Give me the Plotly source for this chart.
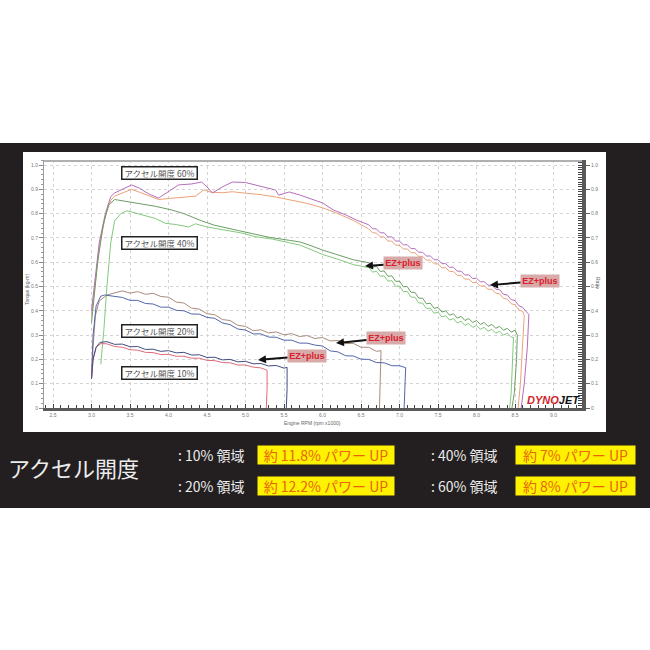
import plotly.graph_objects as go

# ---------------- data ----------------
x_tick_vals = [2.5, 3.0, 3.5, 4.0, 4.5, 5.0, 5.5, 6.0, 6.5, 7.0, 7.5, 8.0, 8.5, 9.0]
x_tick_text = ["2.5", "3.0", "3.5", "4.0", "4.5", "5.0", "5.5", "6.0", "6.5", "7.0", "7.5", "8.0", "8.5", "9.0"]
y_tick_vals = [0, 0.1, 0.2, 0.3, 0.4, 0.5, 0.6, 0.7, 0.8, 0.9, 1.0]
y_tick_text = ["0", "0.1", "0.2", "0.3", "0.4", "0.5", "0.6", "0.7", "0.8", "0.9", "1.0"]

# 60% throttle - EZ+plus (purple)
rpm_60_ez = [3.00, 3.05, 3.10, 3.18, 3.25, 3.30, 3.40, 3.52, 3.62, 3.75, 3.87, 4.00, 4.13, 4.30, 4.43, 4.50,
             4.57, 4.70, 4.83, 5.00, 5.13, 5.25, 5.39, 5.43, 5.57, 5.71, 5.85, 6.00, 6.14, 6.30, 6.45,
             6.60, 6.65, 6.70, 6.75, 6.80, 6.85, 6.90, 6.95, 7.00, 7.05, 7.10, 7.15, 7.20, 7.25, 7.30, 7.35,
             7.40, 7.45, 7.50, 7.55, 7.60, 7.65, 7.70, 7.75, 7.80, 7.85, 7.90, 7.95, 8.00, 8.05, 8.10, 8.15,
             8.20, 8.25, 8.30, 8.35, 8.40, 8.45, 8.50, 8.55, 8.60, 8.65, 8.68, 8.66, 8.62, 8.58]
tq_60_ez = [0.40, 0.55, 0.68, 0.80, 0.87, 0.885, 0.90, 0.918, 0.905, 0.88, 0.864, 0.89, 0.918, 0.922, 0.93, 0.91,
            0.885, 0.91, 0.93, 0.928, 0.918, 0.908, 0.897, 0.876, 0.889, 0.876, 0.862, 0.844, 0.815, 0.795, 0.772,
            0.754, 0.738, 0.737, 0.721, 0.721, 0.704, 0.704, 0.687, 0.687, 0.671, 0.672, 0.656, 0.656, 0.641, 0.641, 0.625,
            0.626, 0.610, 0.610, 0.594, 0.594, 0.579, 0.579, 0.563, 0.563, 0.547, 0.548, 0.533, 0.534, 0.519, 0.520, 0.505,
            0.506, 0.489, 0.487, 0.468, 0.465, 0.446, 0.442, 0.421, 0.414, 0.395, 0.385, 0.25, 0.10, 0.0]

# 60% throttle - stock (orange)
rpm_60_st = [3.00, 3.05, 3.10, 3.18, 3.25, 3.30, 3.40, 3.52, 3.65, 3.80, 3.87, 4.00, 4.20, 4.35, 4.46, 4.55,
             4.70, 4.83, 5.00, 5.20, 5.40, 5.60, 5.80, 6.00, 6.20, 6.40,
             6.60, 6.65, 6.70, 6.75, 6.80, 6.85, 6.90, 6.95, 7.00, 7.05, 7.10, 7.15, 7.20, 7.25, 7.30, 7.35,
             7.40, 7.45, 7.50, 7.55, 7.60, 7.65, 7.70, 7.75, 7.80, 7.85, 7.90, 7.95, 8.00, 8.05, 8.10, 8.15,
             8.20, 8.25, 8.30, 8.35, 8.40, 8.45, 8.50, 8.55, 8.60, 8.62, 8.60, 8.57, 8.54]
tq_60_st = [0.38, 0.52, 0.66, 0.79, 0.855, 0.872, 0.885, 0.90, 0.885, 0.865, 0.858, 0.862, 0.866, 0.872, 0.898, 0.888,
            0.886, 0.89, 0.884, 0.878, 0.868, 0.856, 0.842, 0.824, 0.800, 0.772,
            0.737, 0.721, 0.720, 0.704, 0.704, 0.687, 0.687, 0.670, 0.670, 0.654, 0.655, 0.639, 0.639, 0.624, 0.624, 0.608,
            0.609, 0.593, 0.593, 0.577, 0.577, 0.562, 0.562, 0.546, 0.546, 0.530, 0.531, 0.516, 0.517, 0.502, 0.503, 0.488,
            0.489, 0.472, 0.470, 0.451, 0.448, 0.429, 0.425, 0.404, 0.397, 0.38, 0.25, 0.10, 0.0]

# 40% throttle - EZ+plus (darker green)
rpm_40_ez = [3.00, 3.08, 3.15, 3.22, 3.30, 3.45, 3.60, 3.83, 4.04, 4.20, 4.43, 4.60, 4.91, 5.10, 5.30, 5.57,
             5.71, 5.85, 6.00, 6.20, 6.40,
             6.60, 6.65, 6.70, 6.75, 6.80, 6.85, 6.90, 6.95, 7.00, 7.05, 7.10, 7.15, 7.20, 7.25, 7.30, 7.35,
             7.40, 7.45, 7.50, 7.55, 7.60, 7.65, 7.70, 7.75, 7.80, 7.85, 7.90, 7.95, 8.00, 8.05, 8.10, 8.15,
             8.20, 8.25, 8.30, 8.35, 8.40, 8.45, 8.50, 8.53, 8.52, 8.49, 8.46]
tq_40_ez = [0.35, 0.60, 0.75, 0.835, 0.858, 0.85, 0.84, 0.83, 0.815, 0.80, 0.77, 0.752, 0.73, 0.716, 0.703, 0.69,
            0.683, 0.668, 0.65, 0.63, 0.61,
            0.598, 0.579, 0.583, 0.562, 0.564, 0.542, 0.544, 0.521, 0.522, 0.499, 0.500, 0.476, 0.476, 0.452, 0.452, 0.429,
            0.431, 0.410, 0.414, 0.395, 0.400, 0.382, 0.388, 0.370, 0.377, 0.360, 0.368, 0.352, 0.360, 0.344, 0.352, 0.336,
            0.344, 0.328, 0.336, 0.320, 0.328, 0.312, 0.320, 0.30, 0.20, 0.06, 0.0]

# 40% throttle - stock (light green)
rpm_40_st = [3.12, 3.16, 3.20, 3.25, 3.30, 3.38, 3.46, 3.60, 3.83, 3.96, 4.10, 4.26, 4.35, 4.50, 4.78, 4.95,
             5.13, 5.35, 5.57, 5.71, 5.85, 6.00, 6.20, 6.40,
             6.60, 6.65, 6.70, 6.75, 6.80, 6.85, 6.90, 6.95, 7.00, 7.05, 7.10, 7.15, 7.20, 7.25, 7.30, 7.35,
             7.40, 7.45, 7.50, 7.55, 7.60, 7.65, 7.70, 7.75, 7.80, 7.85, 7.90, 7.95, 8.00, 8.05, 8.10, 8.15,
             8.20, 8.25, 8.30, 8.35, 8.40, 8.45, 8.48, 8.47, 8.45, 8.43]
tq_40_st = [0.18, 0.32, 0.50, 0.68, 0.77, 0.80, 0.812, 0.80, 0.78, 0.76, 0.755, 0.745, 0.758, 0.745, 0.73, 0.72,
            0.705, 0.695, 0.68, 0.67, 0.652, 0.632, 0.612, 0.59,
            0.578, 0.559, 0.563, 0.542, 0.544, 0.522, 0.524, 0.501, 0.502, 0.479, 0.480, 0.456, 0.456, 0.432, 0.432, 0.409,
            0.411, 0.390, 0.394, 0.375, 0.380, 0.362, 0.368, 0.350, 0.357, 0.340, 0.348, 0.332, 0.340, 0.324, 0.332, 0.316,
            0.324, 0.308, 0.316, 0.300, 0.308, 0.292, 0.29, 0.18, 0.06, 0.0]

# 20% throttle - EZ+plus (brown)
rpm_20_ez = [3.00, 3.02, 3.05, 3.10, 3.20, 3.30,
             3.4, 3.5, 3.6, 3.7, 3.8, 3.9, 4.0, 4.1, 4.2, 4.3, 4.4, 4.5, 4.6, 4.7, 4.8, 4.9, 5.0, 5.1, 5.2, 5.3,
             5.4, 5.5, 5.6, 5.7, 5.8, 5.9, 6.0, 6.1, 6.2, 6.3, 6.4, 6.5, 6.6, 6.7, 6.76, 6.75, 6.74]
tq_20_ez = [0.12, 0.25, 0.38, 0.44, 0.465, 0.475,
            0.482, 0.473, 0.479, 0.468, 0.472, 0.459, 0.456, 0.436, 0.432, 0.411, 0.407, 0.388, 0.384, 0.364, 0.360,
            0.340, 0.336, 0.318, 0.322, 0.309, 0.313, 0.301, 0.306, 0.294, 0.298, 0.286, 0.290, 0.276, 0.278, 0.265,
            0.266, 0.250, 0.250, 0.233, 0.236, 0.12, 0.0]

# 20% throttle - stock (blue)
rpm_20_st = [3.00, 3.02, 3.06, 3.12, 3.17, 3.30,
             3.4, 3.5, 3.6, 3.7, 3.8, 3.9, 4.0, 4.1, 4.2, 4.3, 4.4, 4.5, 4.6, 4.7, 4.8, 4.9, 5.0, 5.1, 5.2, 5.3,
             5.4, 5.5, 5.6, 5.7, 5.8, 5.9, 6.0, 6.1, 6.2, 6.3, 6.4, 6.5, 6.6, 6.7, 6.8, 6.9, 7.0, 7.08, 7.07, 7.06]
tq_20_st = [0.12, 0.30, 0.42, 0.46, 0.465, 0.458,
            0.455, 0.443, 0.443, 0.430, 0.428, 0.415, 0.415, 0.402, 0.400, 0.387, 0.386, 0.373, 0.369, 0.350, 0.343,
            0.325, 0.321, 0.305, 0.305, 0.292, 0.291, 0.279, 0.279, 0.267, 0.267, 0.259, 0.255, 0.235, 0.231, 0.215,
            0.214, 0.201, 0.200, 0.187, 0.186, 0.174, 0.174, 0.166, 0.08, 0.0]

# 10% throttle - EZ+plus (navy)
rpm_10_ez = [3.00, 3.02, 3.06, 3.11,
             3.2, 3.3, 3.4, 3.5, 3.6, 3.7, 3.8, 3.9, 4.0, 4.1, 4.2, 4.3, 4.4, 4.5, 4.6, 4.7, 4.8, 4.9, 5.0, 5.1,
             5.2, 5.3, 5.4, 5.5, 5.54, 5.54, 5.53]
tq_10_ez = [0.12, 0.20, 0.25, 0.27,
            0.273, 0.262, 0.263, 0.252, 0.253, 0.241, 0.242, 0.233, 0.236, 0.227, 0.229, 0.218, 0.219, 0.208, 0.209,
            0.198, 0.200, 0.190, 0.192, 0.182, 0.183, 0.173, 0.175, 0.164, 0.167, 0.08, 0.0]

# 10% throttle - stock (pink)
rpm_10_st = [3.00, 3.02, 3.06, 3.12,
             3.2, 3.3, 3.4, 3.5, 3.6, 3.7, 3.8, 3.9, 4.0, 4.1, 4.2, 4.3, 4.4, 4.5, 4.6, 4.7, 4.8, 4.9, 5.0, 5.1,
             5.2, 5.28, 5.28, 5.27]
tq_10_st = [0.12, 0.20, 0.25, 0.265,
            0.264, 0.253, 0.250, 0.240, 0.238, 0.229, 0.228, 0.220, 0.221, 0.213, 0.213, 0.205, 0.205, 0.196, 0.195,
            0.187, 0.186, 0.177, 0.177, 0.168, 0.165, 0.155, 0.08, 0.0]

throttle_labels = ["アクセル開度 60%", "アクセル開度 40%", "アクセル開度 20%", "アクセル開度 10%"]
summary_title = "アクセル開度"
summary_rows = [": 10% 領域", ": 20% 領域", ": 40% 領域", ": 60% 領域"]
summary_gain = ["約 11.8% パワー UP", "約 12.2% パワー UP", "約 7% パワー UP", "約 8% パワー UP"]

# ---------------- layout geometry (pixels) ----------------
W, H = 650, 650
L, R, T, B = 44, 582, 160, 408
X_RANGE = [2.383, 9.370]
Y_RANGE = [0, 1.0206]


def pxx(px):
    return (px - L) / (R - L)


def pxy(py):
    return (B - py) / (B - T)


fig = go.Figure()


def add(x, y, color, width=1.0):
    fig.add_trace(go.Scatter(x=x, y=y, mode="lines", line=dict(color=color, width=width),
                             showlegend=False, hoverinfo="skip"))


add(rpm_60_st, tq_60_st, "#eba277")
add(rpm_60_ez, tq_60_ez, "#b66dbd")
add(rpm_40_st, tq_40_st, "#84c97e")
add(rpm_40_ez, tq_40_ez, "#6d9d66")
add(rpm_20_ez, tq_20_ez, "#a98b7d")
add(rpm_20_st, tq_20_st, "#5466aa")
add(rpm_10_st, tq_10_st, "#e06b7a")
add(rpm_10_ez, tq_10_ez, "#434c80")

# invisible trace for right axis
fig.add_trace(go.Scatter(x=[X_RANGE[0]], y=[0], yaxis="y2", mode="markers",
                         marker=dict(opacity=0), showlegend=False, hoverinfo="skip"))

tickfont = dict(family="Liberation Sans", size=5, color="#777")

fig.update_layout(
    width=W, height=H,
    margin=dict(l=L, r=W - R, t=T, b=H - B, pad=0),
    paper_bgcolor="white",
    plot_bgcolor="white",
    xaxis=dict(range=X_RANGE, tickvals=x_tick_vals, ticktext=x_tick_text, tickfont=tickfont,
               showgrid=True, gridcolor="#d4d4d4", griddash="dot", gridwidth=1,
               showline=True, linecolor="#5a5a5a", linewidth=3,
               ticks="inside", ticklen=4, tickcolor="#444", tickwidth=1,
               minor=dict(dtick=0.1, tick0=2.5, ticks="inside", ticklen=3, tickcolor="#444", showgrid=False),
               zeroline=False),
    yaxis=dict(range=Y_RANGE, tickvals=y_tick_vals, ticktext=y_tick_text, tickfont=tickfont,
               showgrid=True, gridcolor="#d4d4d4", griddash="dot", gridwidth=1,
               showline=True, linecolor="#9a9a9a", linewidth=1,
               ticks="outside", ticklen=4, tickcolor="#888",
               minor=dict(dtick=0.02, tick0=0, ticks="outside", ticklen=2, tickcolor="#999", showgrid=False),
               zeroline=False),
    yaxis2=dict(range=Y_RANGE, overlaying="y", side="right", anchor="x",
                tickvals=y_tick_vals, ticktext=y_tick_text, tickfont=tickfont,
                showgrid=False, showline=True, linecolor="#5a5a5a", linewidth=4,
                ticks="outside", ticklen=4, tickcolor="#666",
                minor=dict(dtick=0.01, tick0=0, ticks="inside", ticklen=4, tickcolor="#444", showgrid=False),
                zeroline=False),
)

shapes = [
    dict(type="rect", xref="paper", yref="paper", x0=pxx(0), x1=pxx(650), y0=pxy(508), y1=pxy(143),
         fillcolor="#231f20", line=dict(width=0), layer="below"),
    dict(type="rect", xref="paper", yref="paper", x0=pxx(23), x1=pxx(606), y0=pxy(432), y1=pxy(152),
         fillcolor="white", line=dict(width=0), layer="below"),
    dict(type="line", xref="paper", yref="paper", x0=0, x1=1, y0=pxy(161), y1=pxy(161),
         line=dict(color="#b0b0b0", width=2)),
]
fig.update_layout(shapes=shapes)

ann = []
# throttle boxes in chart
label_y = [0.967, 0.681, 0.317, 0.144]
for txt, yy in zip(throttle_labels, label_y):
    ann.append(dict(x=3.883, y=yy, xref="x", yref="y", text=txt, showarrow=False,
                    xanchor="center", yanchor="middle",
                    font=dict(family="Noto Sans CJK JP", size=8.5, color="#555"),
                    bgcolor="white", bordercolor="#222", borderwidth=1.5, borderpad=1,
                    width=72, height=9))

# EZ+plus arrows: (tip rpm, tip torque, ax, ay)
ez_tips = [(6.552, 0.584, 38, -3), (8.175, 0.506, 50, -4), (6.175, 0.267, 50, -5), (5.162, 0.198, 49, -4)]
for tx, ty, axp, ayp in ez_tips:
    ann.append(dict(x=tx, y=ty, xref="x", yref="y", text="<b>EZ+plus</b>", showarrow=True,
                    ax=axp, ay=ayp, arrowcolor="#111", arrowwidth=2, arrowhead=2, arrowsize=0.8,
                    font=dict(family="Liberation Sans", size=9, color="#d9202e"),
                    bgcolor="#d8aaaa", borderpad=1, width=36, height=10))

# axis titles
ann.append(dict(x=pxx(27), y=pxy(290), xref="paper", yref="paper", text="Torque (kg-m)", textangle=-90,
                xanchor="center", yanchor="middle",
                showarrow=False, font=dict(family="Liberation Sans", size=5, color="#666")))
ann.append(dict(x=pxx(312), y=pxy(423), xref="paper", yref="paper", text="Engine RPM (rpm x1000)",
                xanchor="center", yanchor="middle",
                showarrow=False, font=dict(family="Liberation Sans", size=5, color="#666")))
ann.append(dict(x=pxx(598), y=pxy(283), xref="paper", yref="paper", text="Ratio", textangle=90,
                xanchor="center", yanchor="middle",
                showarrow=False, font=dict(family="Liberation Sans", size=5, color="#666")))

# DYNOJET logo
ann.append(dict(x=pxx(553), y=pxy(400), xref="paper", yref="paper",
                xanchor="center", yanchor="middle",
                text="<b><i><span style='color:#d21f2b'>DYNO</span><span style='color:#111'>JET</span></i></b>",
                showarrow=False, font=dict(family="Liberation Sans", size=11)))

# bottom summary
ann.append(dict(x=pxx(6), y=pxy(467), xref="paper", yref="paper", text=summary_title, showarrow=False,
                xanchor="left", yanchor="middle",
                font=dict(family="Noto Sans CJK JP", size=22, color="#ececec")))
row_pos = [(176, 455), (176, 486), (429, 455), (429, 486)]
box_pos = [(326, 455), (326, 486), (575, 455), (575, 486)]
box_w = [136, 136, 119, 119]
for txt, (rx, ry) in zip(summary_rows, row_pos):
    ann.append(dict(x=pxx(rx), y=pxy(ry), xref="paper", yref="paper", text=txt, showarrow=False,
                    xanchor="left", yanchor="middle",
                    font=dict(family="Noto Sans CJK JP", size=14, color="#ececec")))
for txt, (bx, by), bw in zip(summary_gain, box_pos, box_w):
    ann.append(dict(x=pxx(bx), y=pxy(by), xref="paper", yref="paper", text=txt, showarrow=False,
                    xanchor="center", yanchor="middle",
                    font=dict(family="Noto Sans CJK JP", size=14, color="#e8650c"),
                    bgcolor="#fff200", borderpad=0, width=bw, height=18))

fig.update_layout(annotations=ann)

fig.write_html("out.html", config={"displayModeBar": False},
               post_script="document.body.style.margin='0px';")
